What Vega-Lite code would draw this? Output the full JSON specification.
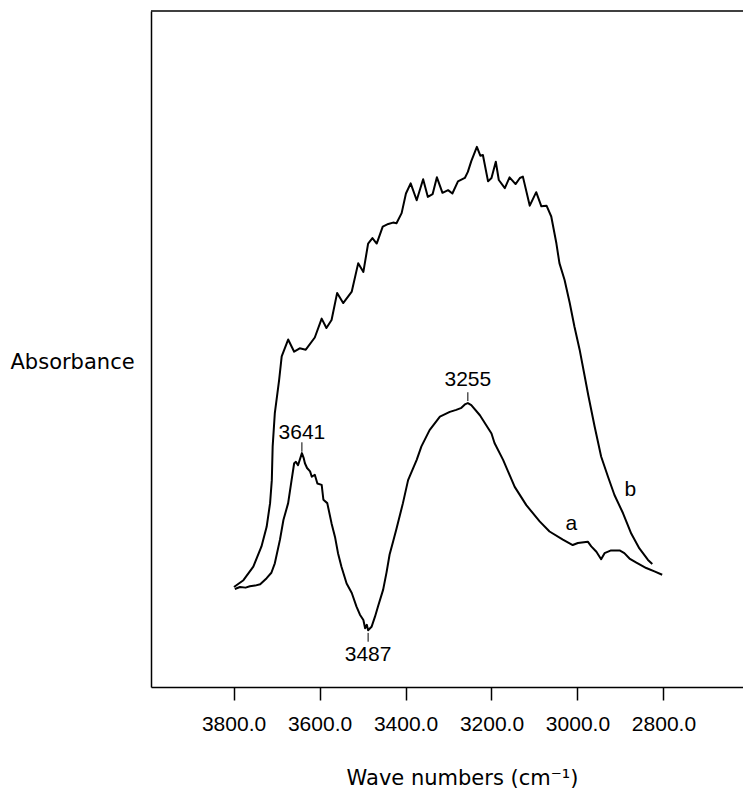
{
  "$schema": "https://vega.github.io/schema/vega-lite/v6.json",
  "width": 592,
  "height": 676,
  "autosize": {"type": "none"},
  "padding": {"left": 151, "top": 11, "right": 0, "bottom": 104},
  "background": "white",
  "config": {
    "view": {"stroke": null},
    "axis": {
      "grid": false,
      "domainColor": "black",
      "domainWidth": 1.5,
      "tickColor": "black",
      "tickWidth": 1.5,
      "labelColor": "black",
      "titleColor": "black",
      "labelFont": "Liberation Sans",
      "labelFontSize": 21,
      "titleFont": "DejaVu Sans",
      "titleFontSize": 21,
      "titleFontWeight": "normal"
    }
  },
  "datasets": {
    "spectra": [
      {"curve": "b", "wavenumber": 3799, "absorbance": 14.8},
      {"curve": "b", "wavenumber": 3777, "absorbance": 15.8},
      {"curve": "b", "wavenumber": 3754, "absorbance": 17.8},
      {"curve": "b", "wavenumber": 3735, "absorbance": 20.8},
      {"curve": "b", "wavenumber": 3723, "absorbance": 23.7},
      {"curve": "b", "wavenumber": 3715, "absorbance": 27.2},
      {"curve": "b", "wavenumber": 3711, "absorbance": 30.6},
      {"curve": "b", "wavenumber": 3709, "absorbance": 35.6},
      {"curve": "b", "wavenumber": 3704, "absorbance": 40.5},
      {"curve": "b", "wavenumber": 3694, "absorbance": 45.4},
      {"curve": "b", "wavenumber": 3688, "absorbance": 48.9},
      {"curve": "b", "wavenumber": 3673, "absorbance": 51.4},
      {"curve": "b", "wavenumber": 3659, "absorbance": 49.6},
      {"curve": "b", "wavenumber": 3646, "absorbance": 50.1},
      {"curve": "b", "wavenumber": 3632, "absorbance": 49.9},
      {"curve": "b", "wavenumber": 3611, "absorbance": 51.7},
      {"curve": "b", "wavenumber": 3595, "absorbance": 54.5},
      {"curve": "b", "wavenumber": 3584, "absorbance": 53.1},
      {"curve": "b", "wavenumber": 3572, "absorbance": 54.3},
      {"curve": "b", "wavenumber": 3559, "absorbance": 58.3},
      {"curve": "b", "wavenumber": 3545, "absorbance": 56.8},
      {"curve": "b", "wavenumber": 3525, "absorbance": 58.5},
      {"curve": "b", "wavenumber": 3510, "absorbance": 62.7},
      {"curve": "b", "wavenumber": 3498, "absorbance": 61.4},
      {"curve": "b", "wavenumber": 3487, "absorbance": 65.6},
      {"curve": "b", "wavenumber": 3477, "absorbance": 66.4},
      {"curve": "b", "wavenumber": 3467, "absorbance": 65.6},
      {"curve": "b", "wavenumber": 3453, "absorbance": 68.1},
      {"curve": "b", "wavenumber": 3440, "absorbance": 68.5},
      {"curve": "b", "wavenumber": 3429, "absorbance": 68.7},
      {"curve": "b", "wavenumber": 3421, "absorbance": 68.6},
      {"curve": "b", "wavenumber": 3409, "absorbance": 70.1},
      {"curve": "b", "wavenumber": 3399, "absorbance": 73.0},
      {"curve": "b", "wavenumber": 3388, "absorbance": 74.5},
      {"curve": "b", "wavenumber": 3374, "absorbance": 72.0},
      {"curve": "b", "wavenumber": 3359, "absorbance": 75.1},
      {"curve": "b", "wavenumber": 3348, "absorbance": 72.5},
      {"curve": "b", "wavenumber": 3337, "absorbance": 72.9},
      {"curve": "b", "wavenumber": 3327, "absorbance": 75.4},
      {"curve": "b", "wavenumber": 3314, "absorbance": 73.1},
      {"curve": "b", "wavenumber": 3301, "absorbance": 73.5},
      {"curve": "b", "wavenumber": 3291, "absorbance": 73.0},
      {"curve": "b", "wavenumber": 3278, "absorbance": 74.8},
      {"curve": "b", "wavenumber": 3262, "absorbance": 75.3},
      {"curve": "b", "wavenumber": 3255, "absorbance": 76.2},
      {"curve": "b", "wavenumber": 3247, "absorbance": 77.8},
      {"curve": "b", "wavenumber": 3234, "absorbance": 79.9},
      {"curve": "b", "wavenumber": 3226, "absorbance": 78.6},
      {"curve": "b", "wavenumber": 3220, "absorbance": 78.7},
      {"curve": "b", "wavenumber": 3208, "absorbance": 74.8},
      {"curve": "b", "wavenumber": 3200, "absorbance": 75.3},
      {"curve": "b", "wavenumber": 3190, "absorbance": 77.7},
      {"curve": "b", "wavenumber": 3183, "absorbance": 75.0},
      {"curve": "b", "wavenumber": 3169, "absorbance": 73.8},
      {"curve": "b", "wavenumber": 3158, "absorbance": 75.4},
      {"curve": "b", "wavenumber": 3144, "absorbance": 74.4},
      {"curve": "b", "wavenumber": 3134, "absorbance": 75.3},
      {"curve": "b", "wavenumber": 3127, "absorbance": 75.5},
      {"curve": "b", "wavenumber": 3111, "absorbance": 71.2},
      {"curve": "b", "wavenumber": 3096, "absorbance": 73.2},
      {"curve": "b", "wavenumber": 3084, "absorbance": 71.1},
      {"curve": "b", "wavenumber": 3072, "absorbance": 71.2},
      {"curve": "b", "wavenumber": 3061, "absorbance": 69.6},
      {"curve": "b", "wavenumber": 3049, "absorbance": 65.6},
      {"curve": "b", "wavenumber": 3042, "absorbance": 62.7},
      {"curve": "b", "wavenumber": 3030, "absorbance": 60.2},
      {"curve": "b", "wavenumber": 3018, "absorbance": 56.8},
      {"curve": "b", "wavenumber": 3007, "absorbance": 53.3},
      {"curve": "b", "wavenumber": 2995, "absorbance": 49.9},
      {"curve": "b", "wavenumber": 2983, "absorbance": 45.9},
      {"curve": "b", "wavenumber": 2975, "absorbance": 43.2},
      {"curve": "b", "wavenumber": 2960, "absorbance": 38.5},
      {"curve": "b", "wavenumber": 2945, "absorbance": 34.1},
      {"curve": "b", "wavenumber": 2929, "absorbance": 31.1},
      {"curve": "b", "wavenumber": 2914, "absorbance": 28.4},
      {"curve": "b", "wavenumber": 2894, "absorbance": 25.7},
      {"curve": "b", "wavenumber": 2875, "absorbance": 22.7},
      {"curve": "b", "wavenumber": 2856, "absorbance": 20.5},
      {"curve": "b", "wavenumber": 2836, "absorbance": 18.8},
      {"curve": "b", "wavenumber": 2826, "absorbance": 18.2},

      {"curve": "a", "wavenumber": 3797, "absorbance": 14.5},
      {"curve": "a", "wavenumber": 3785, "absorbance": 14.8},
      {"curve": "a", "wavenumber": 3772, "absorbance": 14.7},
      {"curve": "a", "wavenumber": 3762, "absorbance": 14.9},
      {"curve": "a", "wavenumber": 3750, "absorbance": 15.0},
      {"curve": "a", "wavenumber": 3738, "absorbance": 15.2},
      {"curve": "a", "wavenumber": 3723, "absorbance": 16.1},
      {"curve": "a", "wavenumber": 3712, "absorbance": 16.9},
      {"curve": "a", "wavenumber": 3704, "absorbance": 18.3},
      {"curve": "a", "wavenumber": 3692, "absorbance": 21.8},
      {"curve": "a", "wavenumber": 3684, "absorbance": 24.7},
      {"curve": "a", "wavenumber": 3673, "absorbance": 27.2},
      {"curve": "a", "wavenumber": 3665, "absorbance": 30.6},
      {"curve": "a", "wavenumber": 3659, "absorbance": 33.1},
      {"curve": "a", "wavenumber": 3655, "absorbance": 33.3},
      {"curve": "a", "wavenumber": 3650, "absorbance": 32.8},
      {"curve": "a", "wavenumber": 3641, "absorbance": 34.6},
      {"curve": "a", "wavenumber": 3637, "absorbance": 33.9},
      {"curve": "a", "wavenumber": 3634, "absorbance": 33.1},
      {"curve": "a", "wavenumber": 3629, "absorbance": 32.4},
      {"curve": "a", "wavenumber": 3622, "absorbance": 31.9},
      {"curve": "a", "wavenumber": 3618, "absorbance": 31.1},
      {"curve": "a", "wavenumber": 3611, "absorbance": 31.4},
      {"curve": "a", "wavenumber": 3605, "absorbance": 30.1},
      {"curve": "a", "wavenumber": 3595, "absorbance": 29.9},
      {"curve": "a", "wavenumber": 3591, "absorbance": 27.7},
      {"curve": "a", "wavenumber": 3582, "absorbance": 27.2},
      {"curve": "a", "wavenumber": 3572, "absorbance": 24.2},
      {"curve": "a", "wavenumber": 3564, "absorbance": 22.2},
      {"curve": "a", "wavenumber": 3557, "absorbance": 19.8},
      {"curve": "a", "wavenumber": 3549, "absorbance": 17.8},
      {"curve": "a", "wavenumber": 3537, "absorbance": 15.3},
      {"curve": "a", "wavenumber": 3525, "absorbance": 13.9},
      {"curve": "a", "wavenumber": 3514, "absorbance": 11.9},
      {"curve": "a", "wavenumber": 3506, "absorbance": 10.7},
      {"curve": "a", "wavenumber": 3498, "absorbance": 9.9},
      {"curve": "a", "wavenumber": 3494, "absorbance": 8.7},
      {"curve": "a", "wavenumber": 3490, "absorbance": 9.2},
      {"curve": "a", "wavenumber": 3487, "absorbance": 8.4},
      {"curve": "a", "wavenumber": 3479, "absorbance": 8.9},
      {"curve": "a", "wavenumber": 3471, "absorbance": 10.4},
      {"curve": "a", "wavenumber": 3464, "absorbance": 11.9},
      {"curve": "a", "wavenumber": 3452, "absorbance": 14.4},
      {"curve": "a", "wavenumber": 3444, "absorbance": 17.0},
      {"curve": "a", "wavenumber": 3437, "absorbance": 19.6},
      {"curve": "a", "wavenumber": 3429, "absorbance": 21.5},
      {"curve": "a", "wavenumber": 3421, "absorbance": 23.4},
      {"curve": "a", "wavenumber": 3406, "absorbance": 27.2},
      {"curve": "a", "wavenumber": 3394, "absorbance": 30.6},
      {"curve": "a", "wavenumber": 3374, "absorbance": 33.6},
      {"curve": "a", "wavenumber": 3363, "absorbance": 35.6},
      {"curve": "a", "wavenumber": 3344, "absorbance": 38.0},
      {"curve": "a", "wavenumber": 3320, "absorbance": 40.0},
      {"curve": "a", "wavenumber": 3297, "absorbance": 40.7},
      {"curve": "a", "wavenumber": 3282, "absorbance": 41.0},
      {"curve": "a", "wavenumber": 3270, "absorbance": 41.3},
      {"curve": "a", "wavenumber": 3262, "absorbance": 41.8},
      {"curve": "a", "wavenumber": 3255, "absorbance": 42.0},
      {"curve": "a", "wavenumber": 3247, "absorbance": 41.7},
      {"curve": "a", "wavenumber": 3227, "absorbance": 40.2},
      {"curve": "a", "wavenumber": 3200, "absorbance": 37.5},
      {"curve": "a", "wavenumber": 3193, "absorbance": 36.1},
      {"curve": "a", "wavenumber": 3173, "absorbance": 33.6},
      {"curve": "a", "wavenumber": 3146, "absorbance": 29.6},
      {"curve": "a", "wavenumber": 3119, "absorbance": 26.9},
      {"curve": "a", "wavenumber": 3088, "absorbance": 24.5},
      {"curve": "a", "wavenumber": 3065, "absorbance": 23.0},
      {"curve": "a", "wavenumber": 3034, "absorbance": 21.8},
      {"curve": "a", "wavenumber": 3011, "absorbance": 21.0},
      {"curve": "a", "wavenumber": 2999, "absorbance": 21.3},
      {"curve": "a", "wavenumber": 2976, "absorbance": 21.5},
      {"curve": "a", "wavenumber": 2968, "absorbance": 20.8},
      {"curve": "a", "wavenumber": 2956, "absorbance": 20.0},
      {"curve": "a", "wavenumber": 2945, "absorbance": 18.9},
      {"curve": "a", "wavenumber": 2937, "absorbance": 19.8},
      {"curve": "a", "wavenumber": 2922, "absorbance": 20.2},
      {"curve": "a", "wavenumber": 2902, "absorbance": 20.2},
      {"curve": "a", "wavenumber": 2891, "absorbance": 19.8},
      {"curve": "a", "wavenumber": 2879, "absorbance": 19.0},
      {"curve": "a", "wavenumber": 2863, "absorbance": 18.4},
      {"curve": "a", "wavenumber": 2840, "absorbance": 17.6},
      {"curve": "a", "wavenumber": 2821, "absorbance": 17.1},
      {"curve": "a", "wavenumber": 2803, "absorbance": 16.6}
    ],
    "frame": [
      {"edge": "top", "absorbance": 100}
    ],
    "annotations": [
      {"label": "3641", "wavenumber": 3641, "textAbs": 36.7, "tickLow": 34.8, "tickHigh": 36.2},
      {"label": "3255", "wavenumber": 3255, "textAbs": 44.5, "tickLow": 42.3, "tickHigh": 43.6},
      {"label": "3487", "wavenumber": 3487, "textAbs": 3.85, "tickLow": 6.7, "tickHigh": 8.0},
      {"label": "a", "wavenumber": 3014, "textAbs": 23.2},
      {"label": "b", "wavenumber": 2877, "textAbs": 28.3}
    ]
  },
  "layer": [
    {
      "data": {"name": "spectra"},
      "mark": {"type": "line", "color": "black", "strokeWidth": 2, "strokeJoin": "round"},
      "encoding": {
        "x": {
          "field": "wavenumber",
          "type": "quantitative",
          "scale": {"domain": [2615, 3992], "reverse": true, "nice": false, "zero": false},
          "axis": {
            "values": [3800, 3600, 3400, 3200, 3000, 2800],
            "format": ".1f",
            "tickSize": 13,
            "labelPadding": 13,
            "labelFlush": false,
            "labelOverlap": false,
            "title": "Wave numbers (cm⁻¹)",
            "titleAlign": "center",
            "titleBaseline": "alphabetic",
            "titleX": 311,
            "titleY": 97
          }
        },
        "y": {
          "field": "absorbance",
          "type": "quantitative",
          "scale": {"domain": [0, 100], "nice": false, "zero": false},
          "axis": {
            "ticks": false,
            "labels": false,
            "title": "Absorbance",
            "titleAngle": 0,
            "titleAlign": "left",
            "titleBaseline": "alphabetic",
            "titleX": -141,
            "titleY": 357
          }
        },
        "detail": {"field": "curve"}
      }
    },
    {
      "data": {"name": "frame"},
      "mark": {"type": "rule", "color": "black", "strokeWidth": 1.5},
      "encoding": {"y": {"field": "absorbance", "type": "quantitative"}}
    },
    {
      "data": {"name": "annotations"},
      "transform": [{"filter": "isValid(datum.tickLow)"}],
      "mark": {"type": "rule", "color": "black", "strokeWidth": 1},
      "encoding": {
        "x": {"field": "wavenumber", "type": "quantitative"},
        "y": {"field": "tickLow", "type": "quantitative"},
        "y2": {"field": "tickHigh"}
      }
    },
    {
      "data": {"name": "annotations"},
      "mark": {"type": "text", "font": "Liberation Sans", "fontSize": 21, "color": "black", "align": "center", "baseline": "alphabetic"},
      "encoding": {
        "x": {"field": "wavenumber", "type": "quantitative"},
        "y": {"field": "textAbs", "type": "quantitative"},
        "text": {"field": "label"}
      }
    }
  ]
}
